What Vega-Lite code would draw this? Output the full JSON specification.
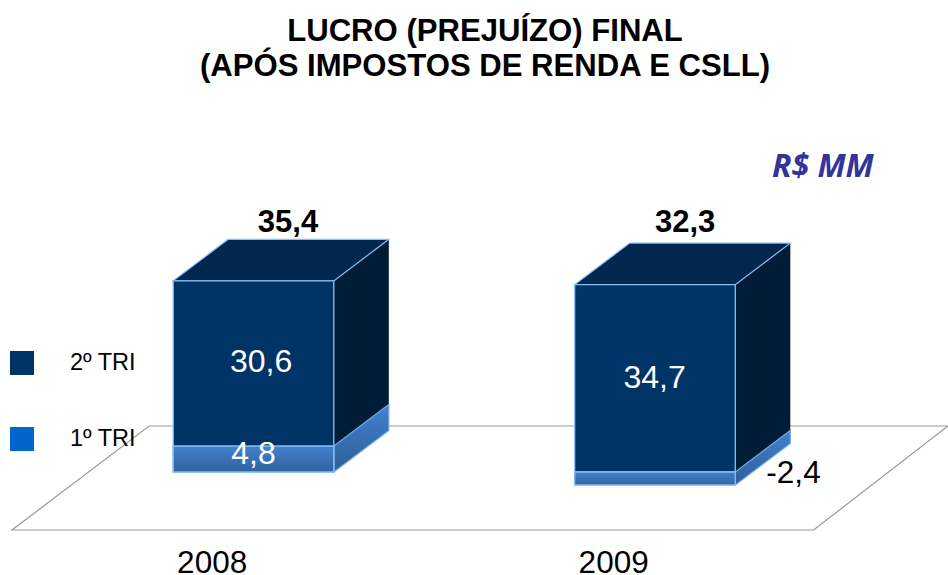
{
"$schema":"https://vega.github.io/schema/vega-lite/v6.json",
"width":948,"height":575,"padding":0,
"autosize":{"type":"none"},
"background":"white",
"config":{"view":{"stroke":null},"font":"Liberation Sans"},
"title":{"text":["LUCRO (PREJUÍZO) FINAL","(APÓS IMPOSTOS DE RENDA E CSLL)"],"font":"Liberation Sans","fontSize":31.1,"fontWeight":"bold","color":"#000000","lineHeight":35,"anchor":"middle","dx":11,"offset":-82,"frame":"group"},
"datasets":{
"floor":[
{"edge":"a","order":1,"pos":2.73,"level":8.52},
{"edge":"a","order":2,"pos":0.74,"level":8.52},
{"edge":"a","order":3,"pos":0.3985,"level":-10.74},
{"edge":"a","order":4,"pos":2.395,"level":-10.74},
{"edge":"a","order":5,"pos":2.73,"level":8.52}
],
"front":[
{"year":"2008","serie":"1º TRI","left":0.8,"right":1.2,"low":0,"high":4.8},
{"year":"2008","serie":"2º TRI","left":0.8,"right":1.2,"low":4.8,"high":35.4},
{"year":"2009","serie":"1º TRI","left":1.8,"right":2.2,"low":-2.4,"high":0},
{"year":"2009","serie":"2º TRI","left":1.8,"right":2.2,"low":0,"high":34.7}
],
"side":[
{"face":"2008-2","serie":"2º TRI","pos":1.2,"low":4.8,"high":35.4},
{"face":"2008-2","serie":"2º TRI","pos":1.337,"low":12.49,"high":43.09},
{"face":"2009-2","serie":"2º TRI","pos":2.2,"low":0,"high":34.7},
{"face":"2009-2","serie":"2º TRI","pos":2.337,"low":7.69,"high":42.39},
{"face":"2008-1","serie":"1º TRI","pos":1.2,"low":0,"high":4.8},
{"face":"2008-1","serie":"1º TRI","pos":1.337,"low":7.69,"high":12.49},
{"face":"2009-1","serie":"1º TRI","pos":2.2,"low":-2.4,"high":0},
{"face":"2009-1","serie":"1º TRI","pos":2.337,"low":5.29,"high":7.69}
],
"top":[
{"face":"2008","level":35.4,"left":0.8,"right":1.2},
{"face":"2008","level":43.09,"left":0.937,"right":1.337},
{"face":"2009","level":34.7,"left":1.8,"right":2.2},
{"face":"2009","level":42.39,"left":1.937,"right":2.337}
]
},
"encoding":{},
"layer":[
{"data":{"name":"floor"},"mark":{"type":"line","color":"#999999","strokeWidth":1.2},
 "encoding":{"x":{"field":"pos","type":"quantitative","scale":{"domain":[0.3686,2.7298],"nice":false,"zero":false},"axis":null},
 "y":{"field":"level","type":"quantitative","scale":{"domain":[-19.07,87.41],"nice":false,"zero":false},"axis":null},
 "detail":{"field":"edge"},"order":{"field":"order","type":"quantitative"}}},
{"data":{"name":"side"},"transform":[{"filter":"datum.serie==='2º TRI'"}],
 "mark":{"type":"area","color":"#001c36"},
 "encoding":{"x":{"field":"pos","type":"quantitative","scale":{"domain":[0.3686,2.7298],"nice":false,"zero":false},"axis":null},"y":{"field":"low","type":"quantitative","scale":{"domain":[-19.07,87.41],"nice":false,"zero":false},"axis":null},"y2":{"field":"high"},"detail":{"field":"face"}}},
{"data":{"name":"side"},"transform":[{"filter":"datum.serie==='1º TRI'"}],
 "mark":{"type":"area","stroke":"#6fa8e6","strokeWidth":1.2,
 "color":{"gradient":"linear","x1":0,"y1":0,"x2":0,"y2":1,"stops":[{"offset":0,"color":"#4181d0"},{"offset":1,"color":"#2f5e96"}]}},
 "encoding":{"x":{"field":"pos","type":"quantitative","scale":{"domain":[0.3686,2.7298],"nice":false,"zero":false},"axis":null},"y":{"field":"low","type":"quantitative","scale":{"domain":[-19.07,87.41],"nice":false,"zero":false},"axis":null},"y2":{"field":"high"},"detail":{"field":"face"}}},
{"data":{"name":"top"},
 "mark":{"type":"area","orient":"horizontal","color":"#02274e","stroke":"#85bdf5","strokeWidth":1.2},
 "encoding":{"y":{"field":"level","type":"quantitative","scale":{"domain":[-19.07,87.41],"nice":false,"zero":false},"axis":null},"x":{"field":"left","type":"quantitative","scale":{"domain":[0.3686,2.7298],"nice":false,"zero":false},"axis":null},"x2":{"field":"right"},"detail":{"field":"face"}}},
{"data":{"name":"front"},
 "mark":{"type":"rect","stroke":"#85bdf5","strokeWidth":1.3},
 "encoding":{"x":{"field":"left","type":"quantitative","scale":{"domain":[0.3686,2.7298],"nice":false,"zero":false},"axis":null},"x2":{"field":"right"},"y":{"field":"low","type":"quantitative","scale":{"domain":[-19.07,87.41],"nice":false,"zero":false},"axis":null},"y2":{"field":"high"},
 "color":{"field":"serie","type":"nominal","scale":{"domain":["2º TRI","1º TRI"],"range":["#003366","#0066CC"]},
 "legend":{"title":null,"orient":"none","legendX":10,"legendY":351,"symbolType":"square","symbolSize":576,"symbolStrokeWidth":0,"symbolOpacity":1,"labelFontSize":23.5,"labelFont":"Liberation Sans","labelColor":"#000000","labelOffset":36,"rowPadding":52,"clipHeight":24}}}},
{"data":{"name":"front"},"transform":[{"filter":"datum.serie==='1º TRI'"}],
 "mark":{"type":"rect","stroke":"#85bdf5","strokeWidth":1.3,
 "color":{"gradient":"linear","x1":0,"y1":0,"x2":0,"y2":1,"stops":[{"offset":0,"color":"#4181d0"},{"offset":1,"color":"#33629b"}]}},
 "encoding":{"x":{"field":"left","type":"quantitative","scale":{"domain":[0.3686,2.7298],"nice":false,"zero":false},"axis":null},"x2":{"field":"right"},"y":{"field":"low","type":"quantitative","scale":{"domain":[-19.07,87.41],"nice":false,"zero":false},"axis":null},"y2":{"field":"high"}}},
{"data":{"values":[{"label":"35,4","pos":1.086,"level":46.1},{"label":"32,3","pos":2.075,"level":46.1}]},
 "mark":{"type":"text","fontSize":31,"fontWeight":"bold","color":"#000000","baseline":"middle","align":"center"},
 "encoding":{"x":{"field":"pos","type":"quantitative","scale":{"domain":[0.3686,2.7298],"nice":false,"zero":false},"axis":null},"y":{"field":"level","type":"quantitative","scale":{"domain":[-19.07,87.41],"nice":false,"zero":false},"axis":null},"text":{"field":"label"}}},
{"data":{"values":[{"label":"30,6","pos":1.019,"level":20.3},{"label":"4,8","pos":1.0,"level":3.3},{"label":"34,7","pos":1.999,"level":17.4}]},
 "mark":{"type":"text","fontSize":32,"color":"#ffffff","baseline":"middle","align":"center"},
 "encoding":{"x":{"field":"pos","type":"quantitative","scale":{"domain":[0.3686,2.7298],"nice":false,"zero":false},"axis":null},"y":{"field":"level","type":"quantitative","scale":{"domain":[-19.07,87.41],"nice":false,"zero":false},"axis":null},"text":{"field":"label"}}},
{"data":{"values":[{"label":"-2,4","pos":2.345,"level":-0.4},{"label":"2008","pos":0.897,"level":-17},{"label":"2009","pos":1.897,"level":-17}]},
 "mark":{"type":"text","fontSize":31.5,"color":"#000000","baseline":"middle","align":"center"},
 "encoding":{"x":{"field":"pos","type":"quantitative","scale":{"domain":[0.3686,2.7298],"nice":false,"zero":false},"axis":null},"y":{"field":"level","type":"quantitative","scale":{"domain":[-19.07,87.41],"nice":false,"zero":false},"axis":null},"text":{"field":"label"}}},
{"data":{"values":[{"label":"R$ MM","pos":2.418,"level":56.5}]},
 "mark":{"type":"text","font":"Open Sans","fontSize":32,"fontWeight":"bold","fontStyle":"italic","color":"#333399","baseline":"middle","align":"center"},
 "encoding":{"x":{"field":"pos","type":"quantitative","scale":{"domain":[0.3686,2.7298],"nice":false,"zero":false},"axis":null},"y":{"field":"level","type":"quantitative","scale":{"domain":[-19.07,87.41],"nice":false,"zero":false},"axis":null},"text":{"field":"label"}}}
]
}
